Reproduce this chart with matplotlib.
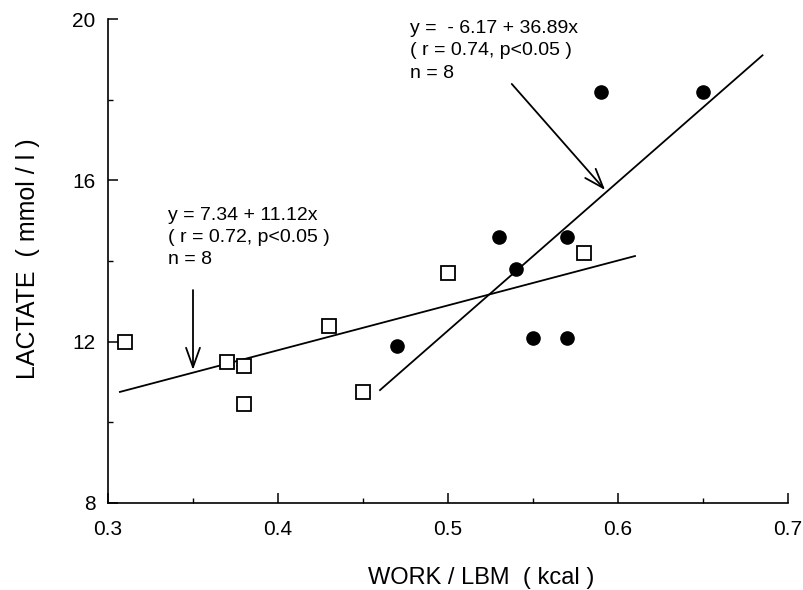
import numpy as np
import matplotlib
matplotlib.use("Agg")
import matplotlib.pyplot as plt
from matplotlib.ticker import MultipleLocator

plt.rcParams['font.family'] = ['Liberation Sans', 'DejaVu Sans']

# Data
open_x = [0.31, 0.37, 0.38, 0.38, 0.43, 0.45, 0.50, 0.58]
open_y = [12.0, 11.5, 11.4, 10.45, 12.4, 10.75, 13.7, 14.2]
filled_x = [0.47, 0.53, 0.54, 0.55, 0.57, 0.57, 0.59, 0.65]
filled_y = [11.9, 14.6, 13.8, 12.1, 12.1, 14.6, 18.2, 18.2]

# Regression lines (intercept, slope, x-range)
open_fit = (7.34, 11.12)
open_range = [0.307, 0.61]
filled_fit = (-6.17, 36.89)
filled_range = [0.46, 0.685]

open_label = "y = 7.34 + 11.12x\n( r = 0.72, p<0.05 )\nn = 8"
filled_label = "y =  - 6.17 + 36.89x\n( r = 0.74, p<0.05 )\nn = 8"

xticks = [0.3, 0.4, 0.5, 0.6, 0.7]
yticks = [8, 12, 16, 20]

fig = plt.figure(figsize=(8.04, 5.90), dpi=100)
ax = fig.add_axes([108/804, 1-503/590, (788-108)/804, (503-19)/590])

lw = 1.3
# regression lines
xo = np.array(open_range)
ax.plot(xo, open_fit[0] + open_fit[1]*xo, color='black', lw=lw, zorder=2)
xf = np.array(filled_range)
ax.plot(xf, filled_fit[0] + filled_fit[1]*xf, color='black', lw=lw, zorder=2)

# points
ax.plot(open_x, open_y, linestyle='none', marker='s', markersize=9.5,
        markerfacecolor='white', markeredgecolor='black', markeredgewidth=1.3, zorder=3)
ax.plot(filled_x, filled_y, linestyle='none', marker='o', markersize=9.5,
        markerfacecolor='black', markeredgecolor='black', zorder=3)

# annotations
ax.text(0.3353, 15.35, open_label, fontsize=14, va='top', ha='left', linespacing=1.4)
ax.text(0.4776, 19.97, filled_label, fontsize=14, va='top', ha='left', linespacing=1.4)

arrow_kw = dict(arrowstyle='->,head_length=1.4,head_width=0.5', color='black',
                lw=1.3, mutation_scale=10, shrinkA=0, shrinkB=0)
ax.annotate('', xy=(0.35, 11.30), xytext=(0.35, 13.28), arrowprops=arrow_kw)
ax.annotate('', xy=(0.5924, 15.76), xytext=(0.5375, 18.39), arrowprops=arrow_kw)

ax.set_xlim(0.3, 0.7)
ax.set_ylim(8, 20)
ax.set_xticks(xticks)
ax.set_yticks(yticks)
ax.set_xticklabels(['0.3', '0.4', '0.5', '0.6', '0.7'])
ax.set_yticklabels(['8', '12', '16', '20'])
ax.xaxis.set_minor_locator(MultipleLocator(0.05))
ax.yaxis.set_minor_locator(MultipleLocator(2))

for s in ['top', 'right']:
    ax.spines[s].set_visible(False)
for s in ['left', 'bottom']:
    ax.spines[s].set_linewidth(1.2)

ax.tick_params(which='major', direction='in', length=7, width=1.1, labelsize=15)
ax.tick_params(which='minor', direction='in', length=3.5, width=1.0)
ax.tick_params(axis='x', which='major', pad=12)
ax.tick_params(axis='y', which='major', pad=9)

ax.set_xlabel('WORK / LBM  ( kcal )', fontsize=17, va='center')
ax.set_ylabel('LACTATE  ( mmol / l )', fontsize=18, va='center')
ax.xaxis.set_label_coords(0.549, -0.155)
ax.yaxis.set_label_coords(-0.1176, 0.504)

fig.savefig('out.png', dpi=100)
